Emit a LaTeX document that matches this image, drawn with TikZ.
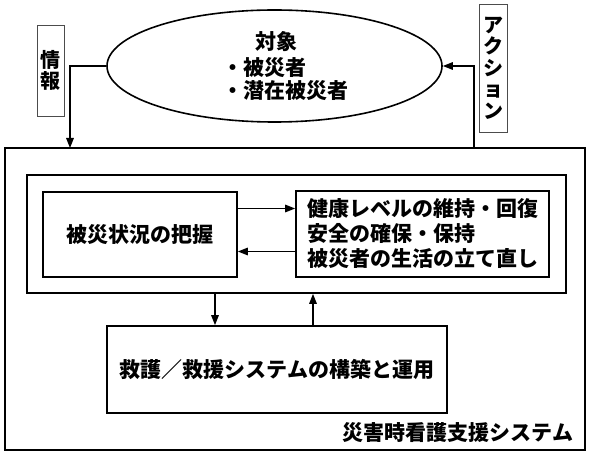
\documentclass[tikz,border=0pt]{standalone}
\usepackage{fontspec}
\setmainfont{Noto Sans CJK JP}
\usetikzlibrary{arrows.meta,shapes.geometric}

\begin{document}
\begin{tikzpicture}[x=1pt,y=-1pt,>={Triangle[length=10pt,width=7.5pt]},
box/.style={draw,line width=1.6pt,inner sep=0pt},
tag/.style={draw=black!70,line width=0.9pt,inner sep=0pt,align=center,
  font=\bfseries\fontsize{20}{21.5}\selectfont},
txt/.style={inner sep=0pt,font=\bfseries\fontsize{21}{25}\selectfont},
link/.style={->,line width=1.4pt}]
\useasboundingbox (0,0) rectangle (591,454);
% target group
\node[box,ellipse,minimum width=335,minimum height=112] (target) at (274.5,66) {};
\node[txt] (title) at (276,42) {対象};
\node[txt,align=left,anchor=west,font=\bfseries\fontsize{21}{23.5}\selectfont]
  (members) at (222,79) {・被災者\\・潜在被災者};
\node[tag,minimum width=27,minimum height=91] (info) at (50.5,70.5) {情\\報};
\node[tag,minimum width=28,minimum height=128] (action) at (493,68) {ア\\ク\\シ\\ョ\\ン};
% system
\node[box,minimum width=580,minimum height=302] (system) at (295,299) {};
\node[txt] (caption) at (458,433) {災害時看護支援システム};
\node[box,minimum width=539,minimum height=118] (core) at (296.5,234) {};
\node[box,txt,minimum width=194,minimum height=85] (grasp) at (140,234.5) {被災状況の把握};
\node[box,txt,align=left,minimum width=253,minimum height=86] (goals) at (422.5,234)
  {健康レベルの維持・回復\\安全の確保・保持\\被災者の生活の立て直し};
\node[box,txt,minimum width=340,minimum height=87] (rescue) at (277,369.5)
  {救護／救援システムの構築と運用};
% connectors
\coordinate (gtop) at ([yshift=26pt]grasp.east);
\coordinate (gbot) at ([yshift=-17pt]grasp.east);
\draw[link] (gtop) -- (gtop -| goals.west);
\draw[link] (gbot -| goals.west) -- (gbot);
\coordinate (dn) at (215,293);
\coordinate (up) at (313,326);
\draw[link] (dn) -- (dn |- rescue.north);
\draw[link] (up) -- (up |- core.south);
\coordinate (infox) at (70,148);
\coordinate (actx) at (474,148);
\draw[link] (target.west) -| (infox);
\draw[link] (actx) |- (target.east);
\end{tikzpicture}
\end{document}
